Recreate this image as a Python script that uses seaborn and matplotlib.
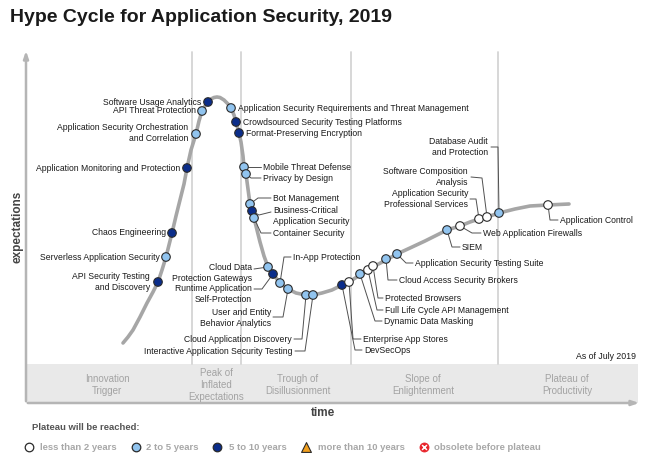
import matplotlib
matplotlib.use("Agg")
import matplotlib.pyplot as plt
import seaborn as sns
import pandas as pd

sns.set_theme(style="white")
plt.rcParams['font.family'] = ['Liberation Sans', 'DejaVu Sans']

# ---------------- data ----------------
# time / expectations positions are in the picture's own units (x right, y down)
technologies = [
    "Software Usage Analytics", "API Threat Protection",
    "Application Security Orchestration\nand Correlation",
    "Application Monitoring and Protection", "Chaos Engineering",
    "Serverless Application Security", "API Security Testing\nand Discovery",
    "Application Security Requirements and Threat Management",
    "Crowdsourced Security Testing Platforms", "Format-Preserving Encryption",
    "Mobile Threat Defense", "Privacy by Design", "Bot Management",
    "Business-Critical\nApplication Security", "Container Security",
    "In-App Protection", "Cloud Data\nProtection Gateways",
    "Runtime Application\nSelf-Protection", "User and Entity\nBehavior Analytics",
    "Cloud Application Discovery", "Interactive Application Security Testing",
    "DevSecOps", "Enterprise App Stores", "Dynamic Data Masking",
    "Full Life Cycle API Management", "Protected Browsers",
    "Cloud Access Security Brokers", "Application Security Testing Suite",
    "SIEM", "Web Application Firewalls",
    "Application Security\nProfessional Services",
    "Software Composition\nAnalysis", "Database Audit\nand Protection",
    "Application Control",
]
time_pos = [208, 202, 196, 187, 172, 166, 158, 231, 236, 239, 244, 246, 250,
            252, 254, 280, 268, 273, 288, 306, 313, 342, 349, 360, 368, 373,
            386, 397, 447, 460, 479, 487, 499, 548]
expect_pos = [102, 111, 134, 168, 233, 257, 282, 108, 122, 133, 167, 174, 204,
              211, 218, 283, 267, 274, 289, 295, 295, 285, 282, 274, 270, 266,
              259, 254, 230, 226, 219, 217, 213, 205]
plateau = ["5 to 10 years", "2 to 5 years", "2 to 5 years", "5 to 10 years",
           "5 to 10 years", "2 to 5 years", "5 to 10 years", "2 to 5 years",
           "5 to 10 years", "5 to 10 years", "2 to 5 years", "2 to 5 years",
           "2 to 5 years", "5 to 10 years", "2 to 5 years", "2 to 5 years",
           "2 to 5 years", "5 to 10 years", "2 to 5 years", "2 to 5 years",
           "2 to 5 years", "5 to 10 years", "less than 2 years", "2 to 5 years",
           "less than 2 years", "less than 2 years", "2 to 5 years",
           "2 to 5 years", "2 to 5 years", "less than 2 years",
           "less than 2 years", "less than 2 years", "2 to 5 years",
           "less than 2 years"]

# hype curve
curve_time = [123, 128, 133, 140, 147, 153, 158, 162, 166, 169, 172, 176, 180,
              184, 187, 191, 196, 199, 202, 205, 208, 211, 214, 217, 220, 224,
              228, 231, 234, 236, 239, 241, 243, 244, 246, 248, 250, 252, 254,
              257, 260, 264, 268, 273, 280, 288, 296, 306, 313, 322, 332, 342,
              349, 360, 368, 373, 386, 397, 410, 425, 437, 447, 460, 470, 479,
              487, 499, 515, 530, 548, 569]
curve_expect = [343, 337, 330, 317, 303, 292, 282, 270, 257, 245, 233, 216, 200,
                184, 168, 150, 134, 121, 111, 106, 102, 99, 97.5, 97, 97.5, 100,
                104, 108, 115, 122, 133, 142, 156, 167, 174, 189, 204, 211, 218,
                230, 242, 256, 267, 274, 283, 289, 293, 295, 295, 293, 290, 285,
                282, 275, 270, 267, 260, 254, 248, 241, 235, 230, 226, 222, 219,
                217, 213, 209, 206, 205, 204]

phases = ["Innovation\nTrigger", "Peak of\nInflated\nExpectations",
          "Trough of\nDisillusionment", "Slope of\nEnlightenment",
          "Plateau of\nProductivity"]
legend_labels = ["less than 2 years", "2 to 5 years", "5 to 10 years",
                 "more than 10 years", "obsolete before plateau"]

# ---------------- layout ----------------
# label anchor (x, y, ha) and leader elbows, per technology
label_layout = {
    0: (201, 102, 'right', []), 1: (196, 110, 'right', []),
    2: (188, 133, 'right', []), 3: (180, 168, 'right', []),
    4: (166, 232, 'right', []), 5: (160, 257, 'right', []),
    6: (150, 282, 'right', []),
    7: (238, 108, 'left', []), 8: (243, 122, 'left', []),
    9: (246, 133, 'left', []),
    10: (263, 167, 'left', [(261, 167)]),
    11: (263, 178, 'left', [(251, 178), (261, 178)]),
    12: (273, 198, 'left', [(258, 198), (271, 198)]),
    13: (273, 216, 'left', [(259, 215), (271, 212)]),
    14: (273, 233, 'left', [(261, 233), (271, 233)]),
    15: (293, 257, 'left', [(284, 257), (291, 257)]),
    16: (252, 273, 'right', [(254, 269)]),
    17: (252, 294, 'right', [(262, 289), (254, 289)]),
    18: (271, 318, 'right', [(283, 317), (273, 317)]),
    19: (292, 339, 'right', [(302, 339), (294, 339)]),
    20: (293, 351, 'right', [(305, 351), (295, 351)]),
    21: (364, 350, 'left', [(355, 350), (362, 350)]),
    22: (363, 339, 'left', [(353, 339), (361, 339)]),
    23: (384, 321, 'left', [(375, 321), (382, 321)]),
    24: (385, 310, 'left', [(377, 310), (383, 310)]),
    25: (385, 298, 'left', [(378, 298), (383, 298)]),
    26: (399, 280, 'left', [(388, 280), (397, 280)]),
    27: (415, 263, 'left', [(406, 263), (413, 263)]),
    28: (462, 247, 'left', [(452, 247), (460, 247)]),
    29: (483, 233, 'left', [(472, 233), (481, 233)]),
    30: (468, 199, 'right', [(476, 199), (470, 199)]),
    31: (468, 177, 'right', [(482, 178), (471, 177)]),
    32: (488, 147, 'right', [(498, 147), (491, 147)]),
    33: (560, 220, 'left', [(550, 220), (558, 220)]),
}
palette = {"less than 2 years": "#ffffff", "2 to 5 years": "#91c4ef",
           "5 to 10 years": "#0b2d8a"}
phase_bounds = [192, 241, 351, 498]
phase_centers = [107, 216, 298, 423, 567]
W, H = 650, 461

df = pd.DataFrame({"technology": technologies, "time": time_pos,
                   "expectations": expect_pos, "plateau": plateau})
curve = pd.DataFrame({"time": curve_time, "expectations": curve_expect})

fig = plt.figure(figsize=(6.5, 4.61), dpi=100)
ax = fig.add_axes([0, 0, 1, 1])

# phase band
ax.add_patch(plt.Rectangle((26, 364), 612, 39, facecolor="#e9e9e9",
                           edgecolor="none", zorder=0))
for xb in phase_bounds:
    ax.plot([xb, xb], [52, 364], color="#d4d4d4", lw=1.3, zorder=1)
for xc, ph in zip(phase_centers, phases):
    ax.text(xc, 385, ph, ha='center', va='center', fontsize=7,
            color="#a3a3a3", linespacing=1.2)

# axes lines with arrows
ax.annotate("", xy=(26, 48), xytext=(26, 404),
            arrowprops=dict(arrowstyle="-|>,head_length=0.35,head_width=0.12",
                            color="#b5b5b5", lw=1.8), zorder=2)
ax.annotate("", xy=(642, 403), xytext=(25, 403),
            arrowprops=dict(arrowstyle="-|>,head_length=0.35,head_width=0.12",
                            color="#b5b5b5", lw=1.8), zorder=2)

# hype curve
sns.lineplot(data=curve, x="time", y="expectations", sort=False,
             estimator=None, color="#a6a6a6", lw=2.6, ax=ax, zorder=3)
ax.lines[-1].set_solid_joinstyle('round')

# leaders and labels
for i, name in enumerate(technologies):
    tx, ty, ha, elbows = label_layout[i]
    px, py = time_pos[i], expect_pos[i]
    if elbows:
        xs = [px] + [e[0] for e in elbows]
        ys = [py] + [e[1] for e in elbows]
        ax.plot(xs, ys, color="#505050", lw=0.7, zorder=4)
    ax.text(tx, ty, name, ha=ha, va='center', fontsize=6.2,
            color="#1a1a1a", linespacing=1.35, zorder=6)

sns.scatterplot(data=df, x="time", y="expectations", hue="plateau",
                palette=palette, s=38, edgecolor="#2a2a2a", linewidth=0.8,
                ax=ax, legend=False, zorder=5)

# texts
ax.text(10, 17, "Hype Cycle for Application Security, 2019", ha='left',
        va='center', fontsize=14, fontweight='bold', color="#1a1a1a")
ax.text(636, 356, "As of July 2019", ha='right', va='center', fontsize=6.3,
        color="#1a1a1a")
ax.text(323, 413, "time", ha='center', va='center', fontsize=8.5,
        fontweight='bold', color="#444444")
ax.text(17, 227, "expectations", ha='center', va='center', fontsize=8.5,
        fontweight='bold', color="#444444", rotation=90)

# legend
ax.text(32, 427, "Plateau will be reached:", ha='left', va='center',
        fontsize=6.8, fontweight='bold', color="#555555")
leg_marker_x = [29, 136, 217, 306, 424]
leg_text_x = [40, 146, 229, 318, 434]
leg_y = 447
for k, lab in enumerate(legend_labels):
    mx = leg_marker_x[k]
    if k < 3:
        ax.scatter([mx], [leg_y], s=38, c=palette[lab], edgecolors="#2a2a2a",
                   linewidths=0.9, zorder=5)
    elif k == 3:
        ax.scatter([mx], [leg_y], s=50, marker='^', c="#f2a01e",
                   edgecolors="#2a2a2a", linewidths=0.8, zorder=5)
    else:
        ax.scatter([mx], [leg_y], s=42, c="#e8232a", edgecolors="#e8232a",
                   linewidths=0.6, zorder=5)
        ax.scatter([mx], [leg_y], s=12, marker='x', c="white",
                   linewidths=1.1, zorder=6)
    ax.text(leg_text_x[k], leg_y, lab, ha='left', va='center', fontsize=6.8,
            fontweight='bold', color="#a8a8a8")

ax.set_xlim(0, W)
ax.set_ylim(H, 0)
ax.axis('off')
fig.savefig("out.png", dpi=100)
